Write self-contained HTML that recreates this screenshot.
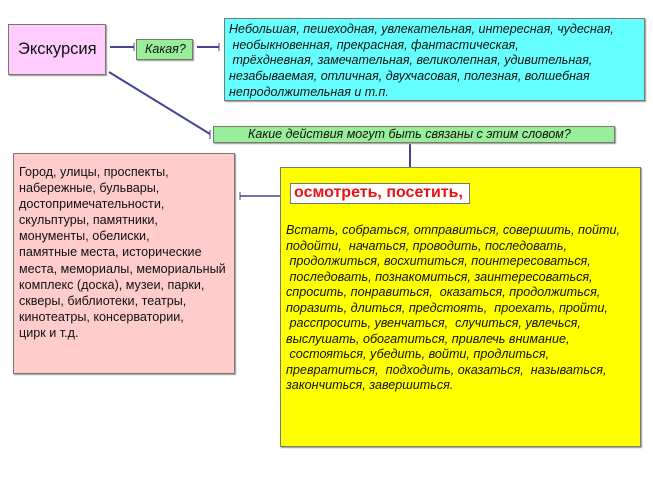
<!DOCTYPE html><html><head><meta charset="utf-8"><style>
body{margin:0;width:653px;height:490px;background:#fff;position:relative;overflow:hidden;font-family:"Liberation Sans",sans-serif;}
.b{position:absolute;box-sizing:border-box;border:1px solid #7a7a6a;box-shadow:1px 1px 1px #999;}
.t{position:absolute;white-space:pre;color:#111;}
</style></head><body>
<svg width="653" height="490" style="position:absolute;left:0;top:0" stroke="#444499" stroke-width="2" fill="none">
<line x1="110" y1="47" x2="134" y2="47"/><line x1="134" y1="43" x2="134" y2="51" stroke-width="1"/>
<line x1="197" y1="47" x2="219" y2="47"/><line x1="219" y1="43" x2="219" y2="51" stroke-width="1"/>
<line x1="109" y1="72" x2="210" y2="134"/><line x1="210" y1="130" x2="210" y2="139" stroke-width="1"/>
<line x1="410" y1="144" x2="410" y2="167"/>
<line x1="240" y1="196" x2="290" y2="196" stroke-width="1.5"/><line x1="240" y1="192" x2="240" y2="200" stroke-width="1"/>
</svg>
<div class="b" style="left:8px;top:24px;width:98px;height:51px;background:#ffccff;"></div>
<div class="t" style="left:18px;top:40px;font-size:16.5px;">Экскурсия</div>
<div class="b" style="left:136px;top:39px;width:57px;height:21px;background:#99ee99;"></div>
<div class="t" style="left:145px;top:42px;font-size:12.5px;font-style:italic;">Какая?</div>
<div class="b" style="left:224px;top:18px;width:421px;height:83px;background:#66ffff;"></div>
<div class="t" style="left:229px;top:22px;font-size:12.5px;font-style:italic;line-height:15.7px;">Небольшая, пешеходная, увлекательная, интересная, чудесная,
 необыкновенная, прекрасная, фантастическая,
 трёхдневная, замечательная, великолепная, удивительная,
незабываемая, отличная, двухчасовая, полезная, волшебная
непродолжительная и т.п.</div>
<div class="b" style="left:213px;top:126px;width:402px;height:17px;background:#99ee99;"></div>
<div class="t" style="left:248px;top:127px;font-size:12.5px;font-style:italic;">Какие действия могут быть связаны с этим словом?</div>
<div class="b" style="left:13px;top:153px;width:222px;height:221px;background:#ffcccc;"></div>
<div class="t" style="left:19px;top:164px;font-size:12.6px;line-height:16.1px;">Город, улицы, проспекты,
набережные, бульвары,
достопримечательности,
скульптуры, памятники,
монументы, обелиски,
памятные места, исторические
места, мемориалы, мемориальный
комплекс (доска), музеи, парки,
скверы, библиотеки, театры,
кинотеатры, консерватории,
цирк и т.д.</div>
<div class="b" style="left:280px;top:167px;width:361px;height:280px;background:#ffff00;"></div>
<div class="b" style="left:290px;top:183px;width:180px;height:21px;background:#fff;box-shadow:none;border-color:#777;"></div>
<div class="t" style="left:294px;top:184px;font-size:16px;font-weight:bold;color:#ee1111;">осмотреть, посетить,</div>
<div class="t" style="left:286px;top:223px;font-size:12.6px;font-style:italic;line-height:15.5px;">Встать, собраться, отправиться, совершить, пойти,
подойти,  начаться, проводить, последовать,
 продолжиться, восхититься, поинтересоваться,
 последовать, познакомиться, заинтересоваться,
спросить, понравиться,  оказаться, продолжиться,
поразить, длиться, предстоять,  проехать, пройти,
 расспросить, увенчаться,  случиться, увлечься,
выслушать, обогатиться, привлечь внимание,
 состояться, убедить, войти, продлиться,
превратиться,  подходить, оказаться,  называться,
закончиться, завершиться.</div>
</body></html>
